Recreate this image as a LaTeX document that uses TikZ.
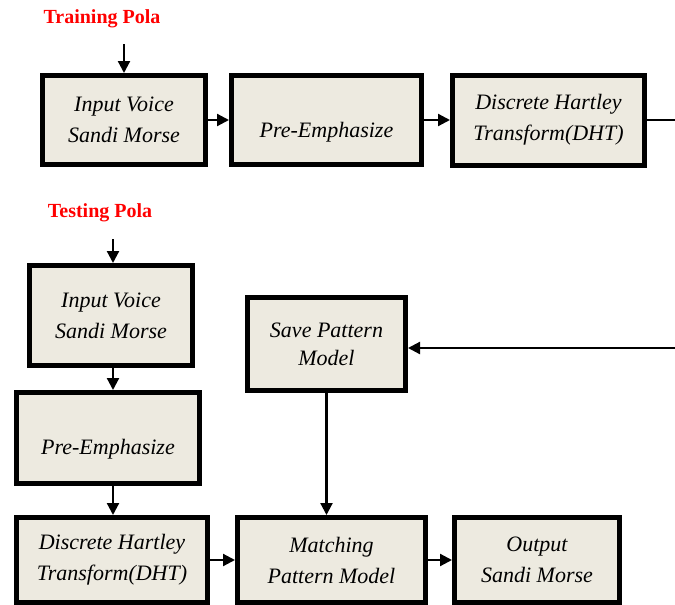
\documentclass[tikz,border=0pt]{standalone}
\usepackage{fontspec}
\setmainfont{Liberation Serif}
\usetikzlibrary{arrows.meta}
\definecolor{boxfill}{RGB}{237,234,224}
\tikzset{
  blok/.style={draw=black, line width=5pt, fill=boxfill, align=center,
    inner sep=0pt, font=\itshape\fontsize{22}{31}\selectfont},
  judul/.style={text=red, font=\bfseries\fontsize{20}{22}\selectfont},
  panah/.style={line width=2.2pt, -{Triangle[length=12pt,width=12pt]}},
  garis/.style={line width=2.2pt}
}
\begin{document}
\begin{tikzpicture}[x=1pt,y=-1pt]
\useasboundingbox (0,0) rectangle (675,605);
% training
\node[judul] (ltrain) at (102,19) {Training Pola};
\node[blok, minimum width=163pt, minimum height=89pt] (tin) at (124,120) {Input Voice\\Sandi Morse};
\node[blok, minimum width=190pt, minimum height=89pt] (tpre) at (326.5,120) {\raisebox{-17pt}[0pt][0pt]{Pre-Emphasize}};
\node[blok, minimum width=192pt, minimum height=90pt] (tdht) at (548.5,120) {Discrete Hartley\\Transform(DHT)};
\coordinate (tstart) at (124,44);
\coordinate (tout) at (675,120);
\draw[panah] (tstart) -- (tin.north);
\draw[panah] (tin) -- (tpre);
\draw[panah] (tpre) -- (tdht);
\draw[garis] (tdht.east) -- (tout);
% testing
\node[judul] (ltest) at (100,213) {Testing Pola};
\node[blok, minimum width=163pt, minimum height=100pt] (sin) at (111,315.5) {Input Voice\\Sandi Morse};
\node[blok, minimum width=183pt, minimum height=91pt] (spre) at (108,438) {\raisebox{-16pt}[0pt][0pt]{Pre-Emphasize}};
\node[blok, minimum width=191pt, minimum height=85pt] (sdht) at (112,560) {Discrete Hartley\\Transform(DHT)};
\node[blok, minimum width=158pt, minimum height=93pt] (save) at (326.5,344) {Save Pattern\\[-3pt]Model};
\node[blok, minimum width=188pt, minimum height=85pt] (match) at (331.5,560) {Matching\\Pattern Model};
\node[blok, minimum width=165pt, minimum height=85pt] (out) at (537,560) {Output\\Sandi Morse};
\coordinate (sstart) at (113,239);
\coordinate (sin2) at (675,348);
\draw[panah] (sstart) -- (sstart |- sin.north);
\draw[panah] (sin.south -| sstart) -- (sstart |- spre.north);
\draw[panah] (spre.south -| sstart) -- (sstart |- sdht.north);
\draw[panah] (sdht) -- (match);
\draw[panah] (match) -- (out);
\draw[panah] (save.south) -- (save.south |- match.north);
\draw[panah] (sin2) -- (sin2 -| save.east);
\end{tikzpicture}
\end{document}
